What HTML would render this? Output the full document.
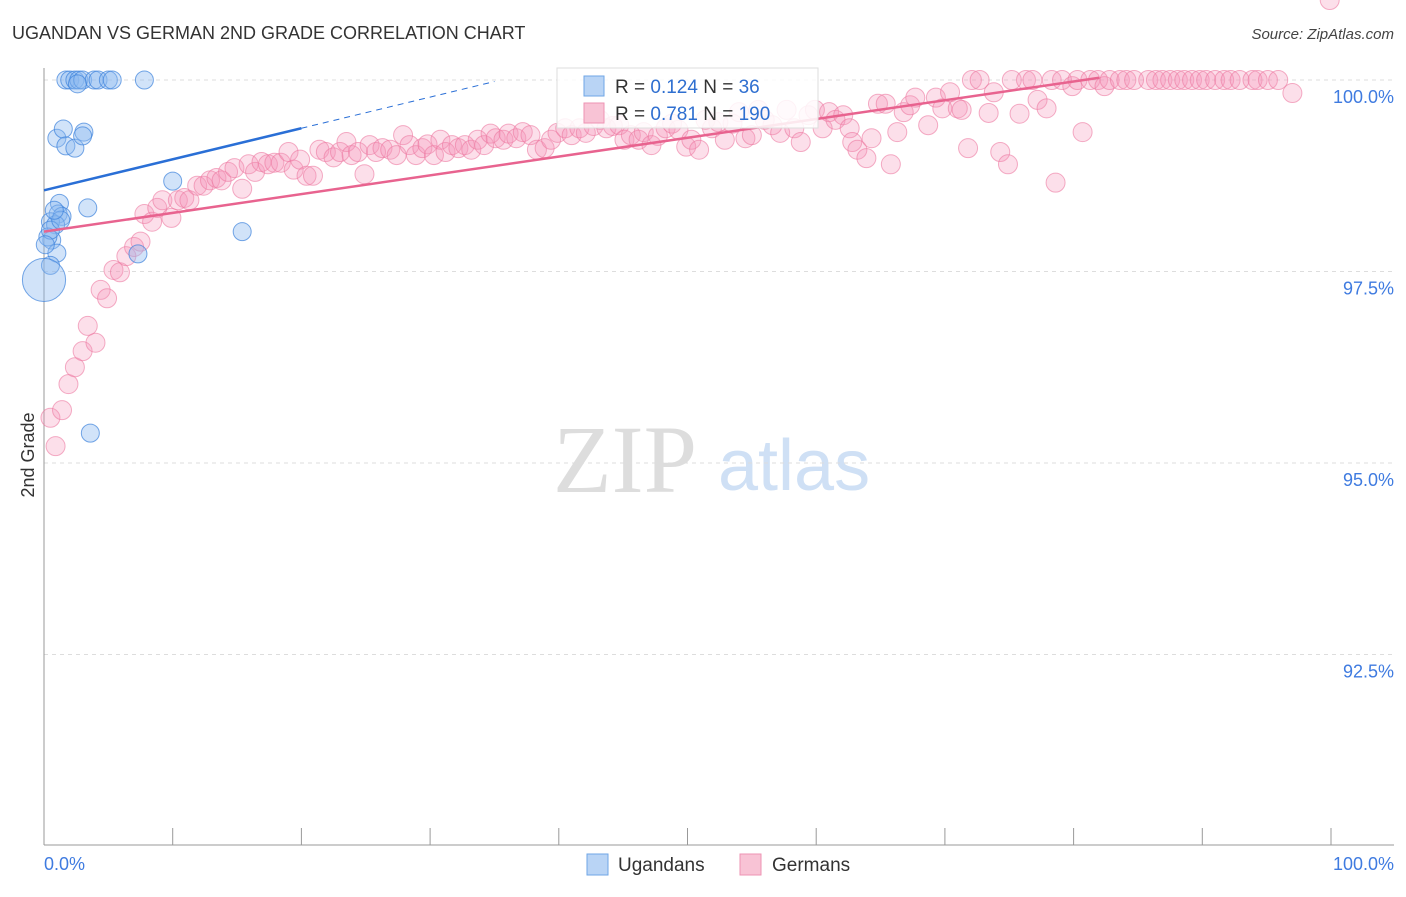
<!DOCTYPE html>
<html><head><meta charset="utf-8"><style>
body{margin:0;background:#fff;font-family:"Liberation Sans",sans-serif}
</style></head><body>
<svg id="chart" width="1406" height="892" xmlns="http://www.w3.org/2000/svg">
<text x="12" y="39" font-size="18" fill="#333">UGANDAN VS GERMAN 2ND GRADE CORRELATION CHART</text>
<text x="1394" y="39" font-size="15" fill="#444" font-style="italic" text-anchor="end">Source: ZipAtlas.com</text>
<g>
<text x="553" y="492" font-size="96" font-family="Liberation Serif,serif" fill="#ddd">ZIP</text>
<text x="718" y="490" font-size="72" fill="#cfe0f5">atlas</text>
</g>
<g id="grid"></g>
<g id="axes"></g>
<g id="pts"></g>
<g id="trends"></g>
<text transform="translate(34,455) rotate(-90)" font-size="18" fill="#333" text-anchor="middle">2nd Grade</text>
<g>
<rect x="557" y="68" width="261" height="60" fill="#fff" fill-opacity="0.85" stroke="#ddd"/>
<rect x="584" y="76" width="20" height="20" fill="#b9d4f5" stroke="#6fa6e6"/>
<text x="615" y="93" font-size="19" fill="#333">R = <tspan fill="#2f6fd0">0.124</tspan>   N =   <tspan fill="#2f6fd0">36</tspan></text>
<rect x="584" y="103" width="20" height="20" fill="#f8c3d5" stroke="#ee93b3"/>
<text x="615" y="120" font-size="19" fill="#333">R = <tspan fill="#2f6fd0">0.781</tspan>   N = <tspan fill="#2f6fd0">190</tspan></text>
</g>
<g>
<rect x="587" y="854" width="21" height="21" fill="#b9d4f5" stroke="#6fa6e6"/>
<text x="618" y="871" font-size="19" fill="#333">Ugandans</text>
<rect x="740" y="854" width="21" height="21" fill="#f8c3d5" stroke="#ee93b3"/>
<text x="772" y="871" font-size="19" fill="#333">Germans</text>
</g>
</svg>
<script>
const yTicks=[100,97.5,95,92.5];
const yTickLabels=["100.0%","97.5%","95.0%","92.5%"];
const xTickVals=[0,10,20,30,40,50,60,70,80,90,100];
const blueX=[1.7,2.0,2.4,2.7,3.0,3.9,4.2,5.0,5.3,7.8,2.6,1.0,1.5,1.7,2.4,3.1,3.0,1.2,1.1,1.4,0.5,0.9,0.6,0.3,1.0,0.5,3.4,10.0,15.4,7.3,3.6,0,0.5,1.3,0.8,0.1];
const blueY=[100,100,100,100,100,100,100,100,100,100,99.95,99.24,99.36,99.14,99.11,99.32,99.27,98.39,98.25,98.22,98.15,98.11,97.91,97.95,97.74,97.58,98.33,98.68,98.02,97.73,95.39,97.39,98.04,98.17,98.30,97.85];
const blueSize=[1,1,1,1,1,1,1,1,1,1,1,1,1,1,1,1,1,1,1,1,1,1,1,1,1,1,1,1,1,1,1,2.4,1,1,1,1];
const pinkX=[0.5,0.9,1.4,1.9,2.4,3.0,3.4,4.0,4.4,4.9,5.4,5.9,6.4,7.0,7.5,7.8,8.4,8.8,9.2,9.9,10.4,10.9,11.3,11.9,12.4,12.9,13.4,13.8,14.3,14.8,15.4,15.9,16.4,16.9,17.4,17.9,18.4,19.0,19.4,19.9,20.4,20.9,21.4,21.9,22.5,23.0,23.5,23.9,24.4,24.9,25.3,25.8,26.3,26.9,27.4,27.9,28.4,28.9,29.4,29.8,30.3,30.8,31.2,31.7,32.2,32.7,33.2,33.7,34.2,34.7,35.1,35.7,36.1,36.7,37.2,37.8,38.3,38.9,39.4,39.9,40.5,41.0,41.6,42.1,42.7,43.2,43.7,44.2,44.7,45.1,45.6,46.2,46.6,47.2,47.7,48.3,48.8,49.3,49.9,50.3,50.9,51.4,51.9,52.4,52.9,53.5,54.0,54.5,55.0,55.5,56.0,56.6,57.2,57.7,58.3,58.8,59.4,59.9,60.5,61.0,61.5,62.1,62.6,62.8,63.2,63.9,64.3,64.8,65.4,65.8,66.3,66.8,67.3,67.7,68.7,69.3,69.8,70.4,71.0,71.3,71.8,72.1,72.7,73.4,73.8,74.3,74.9,75.2,75.8,76.3,76.8,77.2,77.9,78.3,78.6,79.1,79.9,80.3,80.7,81.3,81.9,82.4,82.8,83.6,84.1,84.7,85.8,86.4,86.9,87.5,88.1,88.6,89.2,89.8,90.3,91.0,91.7,92.2,92.9,93.9,94.3,95.1,95.9,97.0,99.9];
const pinkY=[95.59,95.22,95.69,96.03,96.25,96.46,96.79,96.57,97.26,97.15,97.52,97.49,97.70,97.82,97.89,98.25,98.15,98.33,98.43,98.20,98.43,98.46,98.43,98.62,98.62,98.69,98.72,98.69,98.80,98.85,98.58,98.90,98.80,98.93,98.90,98.92,98.92,99.06,98.83,98.96,98.75,98.75,99.09,99.06,98.99,99.06,99.19,99.02,99.06,98.77,99.15,99.06,99.11,99.09,99.02,99.28,99.15,99.02,99.11,99.16,99.02,99.22,99.06,99.15,99.11,99.15,99.09,99.22,99.15,99.30,99.24,99.22,99.30,99.24,99.32,99.28,99.09,99.11,99.22,99.31,99.37,99.28,99.37,99.31,99.40,99.48,99.37,99.40,99.41,99.22,99.28,99.22,99.32,99.15,99.27,99.37,99.43,99.35,99.13,99.22,99.09,99.48,99.37,99.45,99.22,99.43,99.58,99.24,99.28,99.61,99.48,99.41,99.31,99.61,99.37,99.19,99.54,99.61,99.37,99.58,99.48,99.54,99.37,99.19,99.09,98.98,99.24,99.69,99.69,98.90,99.32,99.58,99.67,99.77,99.41,99.77,99.63,99.84,99.63,99.61,99.11,100,100,99.57,99.84,99.06,98.90,100,99.56,100,100,99.74,99.63,100,98.66,100,99.92,100,99.32,100,100,99.92,100,100,100,100,100,100,100,100,100,100,100,100,100,100,100,100,100,100,100,100,100,99.83];
const blueTrend=[0,98.56,20,99.37,35,99.98];
const pinkTrend=[0,98.02,82,100.03];

const NS="http://www.w3.org/2000/svg";
const X0=44,X1=1331,Y100=80,PPU=76.6;
function sx(v){return X0+(X1-X0)*v/100;}
function sy(v){return Y100+(100-v)*PPU;}
function mk(tag,attrs,parent){const e=document.createElementNS(NS,tag);for(const k in attrs)e.setAttribute(k,attrs[k]);parent.appendChild(e);return e;}
const grid=document.getElementById('grid'),axes=document.getElementById('axes'),pts=document.getElementById('pts'),tr=document.getElementById('trends');
yTicks.forEach((t,i)=>{
 const l=mk('line',{x1:44,x2:1394,y1:sy(t),y2:sy(t),stroke:'#ddd','stroke-dasharray':'4,4'},grid);
 
 
 const tx=mk('text',{x:1394,y:sy(t)+23,'font-size':18,fill:'#3f7be0','text-anchor':'end'},axes);
 tx.textContent=yTickLabels[i];
 
 
});
let a=mk('line',{x1:44,x2:44,y1:68,y2:845,stroke:'#999'},axes);


a=mk('line',{x1:44,x2:1394,y1:845,y2:845,stroke:'#999'},axes);


xTickVals.forEach(v=>{
 const t=mk('line',{x1:sx(v),x2:sx(v),y1:828,y2:845,stroke:'#999'},axes);
 
 
});
let xl=mk('text',{x:44,y:870,'font-size':18,fill:'#3f7be0'},axes);xl.textContent='0.0%';


xl=mk('text',{x:1394,y:870,'font-size':18,fill:'#3f7be0','text-anchor':'end'},axes);xl.textContent='100.0%';


pinkX.forEach((x,i)=>{
 const c=mk('circle',{cx:sx(x),cy:sy(pinkY[i]),r:9.5,fill:'rgba(245,150,185,0.3)',stroke:'rgba(236,120,160,0.6)','stroke-width':1},pts);
 
 
});
blueX.forEach((x,i)=>{
 const c=mk('circle',{cx:sx(x),cy:sy(blueY[i]),r:9*blueSize[i],fill:'rgba(140,185,240,0.4)',stroke:'rgba(60,130,220,0.7)','stroke-width':1},pts);
 
 
});
let ln=mk('line',{x1:sx(blueTrend[0]),y1:sy(blueTrend[1]),x2:sx(blueTrend[2]),y2:sy(blueTrend[3]),stroke:'#2a6fd6','stroke-width':2.5},tr);


ln=mk('line',{x1:sx(blueTrend[2]),y1:sy(blueTrend[3]),x2:sx(blueTrend[4]),y2:sy(blueTrend[5]),stroke:'#2a6fd6','stroke-width':1,'stroke-dasharray':'6,5'},tr);


ln=mk('line',{x1:sx(pinkTrend[0]),y1:sy(pinkTrend[1]),x2:sx(pinkTrend[2]),y2:sy(pinkTrend[3]),stroke:'#e8638f','stroke-width':2.5},tr);


</script>
</body></html>
